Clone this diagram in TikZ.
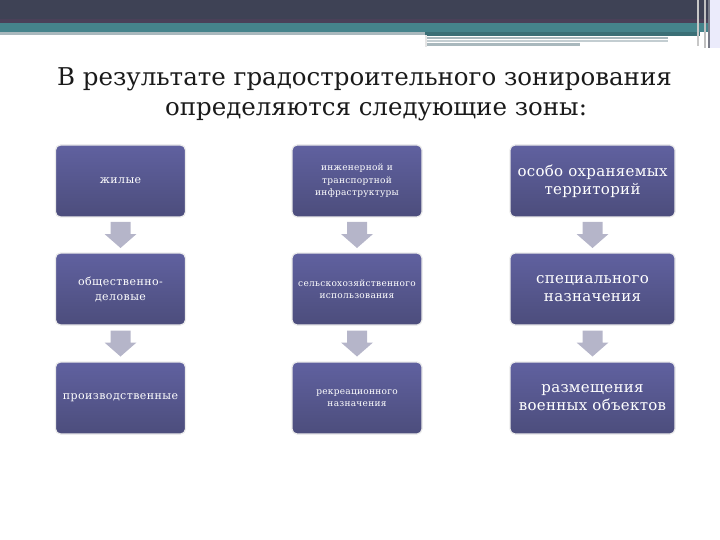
\documentclass[tikz,border=0pt]{standalone}
\usepackage{fontspec}
\setmainfont{DejaVu Serif}
\newfontfamily\boxfontA[LetterSpace=4]{DejaVu Serif}
\newfontfamily\boxfontB[LetterSpace=3]{DejaVu Serif}
\newfontfamily\boxfontC[LetterSpace=2]{DejaVu Serif}
\usetikzlibrary{calc}
\definecolor{bandDark}{HTML}{3E4255}
\definecolor{bandPurple}{HTML}{4A4058}
\definecolor{bandTeal}{HTML}{45838B}
\definecolor{lineGray}{HTML}{A9B8BD}
\definecolor{boxTop}{HTML}{6061A0}
\definecolor{boxBot}{HTML}{4C4D7C}
\definecolor{arrowFill}{HTML}{B5B5C9}
\definecolor{titleCol}{HTML}{1A1A1A}
\tikzset{
  zonebox/.style={rounded corners=5pt, minimum width=130pt, minimum height=72pt,
    top color=boxTop, bottom color=boxBot, draw=black!8, line width=1.2pt,
    text=white, align=center, inner sep=2pt},
  widebox/.style={zonebox, minimum width=165pt},
  smallA/.style={font=\boxfontA\fontsize{11}{15}\selectfont},
  smallB/.style={font=\boxfontB\fontsize{9}{12.5}\selectfont},
  smallC/.style={font=\boxfontC\fontsize{15}{18}\selectfont},
  titletext/.style={text=titleCol, font=\fontsize{24.5}{30}\selectfont, inner sep=0pt},
  pics/blockarrow/.style={code={
    \fill[arrowFill] (-10,-13) -- (10,-13) -- (10,-1) -- (16,-1) -- (0,13)
      -- (-16,-1) -- (-10,-1) -- cycle;}},
}
\begin{document}
\begin{tikzpicture}[x=1pt,y=-1pt]
\useasboundingbox (0,0) rectangle (720,540);
% top decoration
\fill[bandDark] (0,0) rectangle (720,19);
\fill[bandPurple] (0,19) rectangle (720,23);
\fill[bandTeal] (0,23) rectangle (720,32);
\fill[lineGray] (0,32) rectangle (425,35);
\fill[bandTeal!85!black] (425,32) rectangle (700,36);
\fill[lineGray] (425,37) rectangle (668,39);
\fill[lineGray!70] (425,40) rectangle (668,42);
\fill[lineGray] (425,43) rectangle (580,46);
\fill[black!10] (425,35) rectangle (427,47);
\fill[black!22] (697,0) rectangle (699,46);
\fill[black!25] (704,0) rectangle (706,48);
\fill[bandDark!70] (708,0) rectangle (709.5,48);
\fill[black!20!blue!8] (709.5,0) rectangle (720,48);
% title
\node[titletext, anchor=base] (title1) at (364.5,86) {В результате градостроительного зонирования};
\node[titletext, anchor=base] (title2) at (376,116) {определяются следующие зоны:};
% boxes
\node[zonebox, smallA] (b11) at (120.5,181) {жилые};
\node[zonebox, smallA] (b12) at (120.5,289) {общественно-\\деловые};
\node[zonebox, smallA] (b13) at (120.5,398) {производственные};
\node[zonebox, smallB] (b21) at (357,181) {инженерной и\\транспортной\\инфраструктуры};
\node[zonebox, smallB] (b22) at (357,289) {сельскохозяйственного\\использования};
\node[zonebox, smallB] (b23) at (357,398) {рекреационного\\назначения};
\node[widebox, smallC] (b31) at (592.5,181) {особо охраняемых\\территорий};
\node[widebox, smallC] (b32) at (592.5,289) {специального\\назначения};
\node[widebox, smallC] (b33) at (592.5,398) {размещения\\военных объектов};
% arrows
\foreach \c in {1,2,3}{
  \coordinate (m\c1) at ($(b\c1.south)!0.5!(b\c2.north)$);
  \coordinate (m\c2) at ($(b\c2.south)!0.5!(b\c3.north)$);
  \pic at (m\c1) {blockarrow};
  \pic at (m\c2) {blockarrow};
}
\end{tikzpicture}
\end{document}
